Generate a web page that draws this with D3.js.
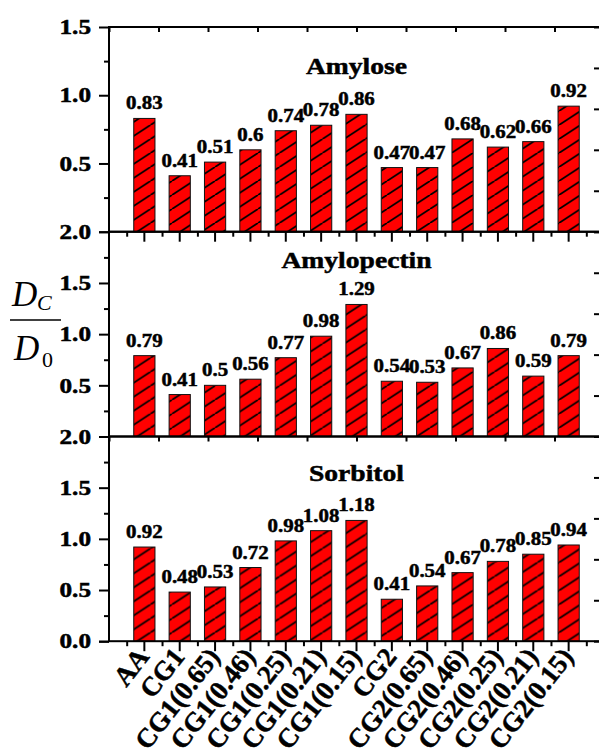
<!DOCTYPE html>
<html>
<head>
<meta charset="utf-8">
<script src="https://cdn.jsdelivr.net/npm/d3@7/dist/d3.min.js"></script>
<style>
  body { margin: 0; background: #fff; }
  svg { display: block; }
  .axis path, .axis line { stroke: #000; stroke-width: 2; }
</style>
</head>
<body>
<script>
// categories and the three series
var categories = ["AA", "CG1", "CG1(0.65)", "CG1(0.46)", "CG1(0.25)", "CG1(0.21)", "CG1(0.15)",
                  "CG2", "CG2(0.65)", "CG2(0.46)", "CG2(0.25)", "CG2(0.21)", "CG2(0.15)"];
var amylose     = [0.83, 0.41, 0.51, 0.6, 0.74, 0.78, 0.86, 0.47, 0.47, 0.68, 0.62, 0.66, 0.92];
var amylopectin = [0.79, 0.41, 0.5, 0.56, 0.77, 0.98, 1.29, 0.54, 0.53, 0.67, 0.86, 0.59, 0.79];
var sorbitol    = [0.92, 0.48, 0.53, 0.72, 0.98, 1.08, 1.18, 0.41, 0.54, 0.67, 0.78, 0.85, 0.94];
var panelTitles = ["Amylose", "Amylopectin", "Sorbitol"];
var yMax = [1.5, 2, 2];
var yTickLabels = [[0.5, 1, 1.5], [0.5, 1, 1.5, 2], [0, 0.5, 1, 1.5, 2]];

var series = [amylose, amylopectin, sorbitol];

var FONT = "'Liberation Serif', 'Times New Roman', 'DejaVu Serif', serif";

var width = 599, height = 754,
    left = 109, right = 604,
    panelTop = [27, 231.8, 436.5],
    panelH = 204.7,
    titleY = [47, 36, 44];

var step = (right - left) / 14;

var x = d3.scaleBand()
    .domain(categories)
    .range([left + step * 0.5, left + step * 13.5])
    .paddingInner(0.4)
    .paddingOuter(0.2);

var xLin = d3.scaleLinear().domain([0, 14]).range([left, right]);
var xTop = d3.scaleLinear().domain([0, 10]).range([left, right]);

var svg = d3.select("body").append("svg")
    .attr("width", width)
    .attr("height", height);

// red fill with black "/" hatching
var pw = 21.5, ph = 14;
var pat = svg.append("defs").append("pattern")
    .attr("id", "hatch")
    .attr("patternUnits", "userSpaceOnUse")
    .attr("width", pw)
    .attr("height", ph);
pat.append("rect").attr("width", pw).attr("height", ph).attr("fill", "#ff0000");
[-pw, 0, pw].forEach(function(o) {
    pat.append("line")
        .attr("x1", o).attr("y1", ph)
        .attr("x2", o + pw).attr("y2", 0)
        .attr("stroke", "#000")
        .attr("stroke-width", 1.8);
});

series.forEach(function(vals, p) {
    var g = svg.append("g")
        .attr("transform", "translate(0," + panelTop[p] + ")");

    var y = d3.scaleLinear()
        .domain([0, yMax[p]])
        .range([panelH, 0]);

    var yRight = d3.scaleLinear().domain([0, 5]).range([panelH, 0]);

    var data = categories.map(function(c, i) { return {cat: c, v: vals[i]}; });

    g.selectAll(".bar")
        .data(data)
        .enter().append("rect")
        .attr("class", "bar")
        .attr("x", function(d) { return x(d.cat); })
        .attr("y", function(d) { return y(d.v); })
        .attr("width", x.bandwidth())
        .attr("height", function(d) { return panelH - y(d.v); })
        .attr("fill", "url(#hatch)")
        .attr("stroke", "#111")
        .attr("stroke-width", 1);

    g.selectAll(".val")
        .data(data)
        .enter().append("text")
        .attr("class", "val bold")
        .attr("transform", function(d) {
            return "translate(" + (x(d.cat) + x.bandwidth() / 2) + "," + (y(d.v) - 9) + ") scale(1.1,1)";
        })
        .attr("text-anchor", "middle")
        .style("font-size", "19px")
        .text(function(d) { return d.v; });

    // title
    g.append("text")
        .attr("class", "bold")
        .attr("transform", "translate(" + ((left + right) / 2) + "," + titleY[p] + ") scale(1.15,1)")
        .attr("text-anchor", "middle")
        .style("font-size", "24px")
        .text(panelTitles[p]);

    // frame
    g.append("rect")
        .attr("x", left).attr("y", 0)
        .attr("width", right - left).attr("height", panelH)
        .attr("fill", "none")
        .attr("stroke", "#000")
        .attr("stroke-width", 2);

    // left axis
    var yAx = g.append("g")
        .attr("class", "axis")
        .attr("transform", "translate(" + left + ",0)")
        .call(d3.axisLeft(y).tickValues(yTickLabels[p]).tickSize(10).tickPadding(5)
            .tickFormat(d3.format(".1f")));
    yAx.select(".domain").remove();
    yAx.selectAll("text")
        .attr("class", "bold")
        .attr("transform", "scale(1.2,1)")
        .attr("fill", "#000")
        .style("font-size", "21px");

    g.append("g")
        .attr("class", "axis")
        .attr("transform", "translate(" + left + ",0)")
        .call(d3.axisLeft(y).tickValues([0]).tickSize(10).tickFormat(""))
        .select(".domain").remove();

    g.append("g")
        .attr("class", "axis")
        .attr("transform", "translate(" + left + ",0)")
        .call(d3.axisLeft(y).tickValues(d3.range(0.25, yMax[p], 0.5)).tickSize(5).tickFormat(""))
        .select(".domain").remove();

    // right axis, ticks pointing in
    g.append("g")
        .attr("class", "axis")
        .attr("transform", "translate(" + right + ",0)")
        .call(d3.axisLeft(yRight).ticks(5).tickSize(10).tickFormat(""))
        .select(".domain").remove();
    g.append("g")
        .attr("class", "axis")
        .attr("transform", "translate(" + right + ",0)")
        .call(d3.axisLeft(yRight).tickValues(d3.range(0.5, 5, 1)).tickSize(5).tickFormat(""))
        .select(".domain").remove();

    // top ticks pointing in
    if (p != 1) {
        g.append("g")
            .attr("class", "axis")
            .call(d3.axisBottom(xTop).ticks(10).tickSize(5).tickFormat(""))
            .select(".domain").remove();
    }

    // bottom category ticks
    if (p != 1) {
        var xAx = g.append("g")
            .attr("class", "axis")
            .attr("transform", "translate(0," + panelH + ")")
            .call(d3.axisBottom(x).tickSize(10).tickSizeOuter(0));
        xAx.select(".domain").remove();
        if (p == 2) {
            xAx.selectAll("text")
                .attr("class", "bold")
                .attr("x", 0).attr("y", 0).attr("dy", 0)
                .attr("transform", "translate(6,16) rotate(-52)")
                .attr("text-anchor", "end")
                .attr("fill", "#000")
                .style("font-size", "27px");
        } else {
            xAx.selectAll("text").remove();
        }
        g.append("g")
            .attr("class", "axis")
            .attr("transform", "translate(0," + panelH + ")")
            .call(d3.axisBottom(xLin).tickValues(d3.range(0.5, 14, 1)).tickSize(5).tickFormat(""))
            .select(".domain").remove();
    }
});

// y label: Dc / D0
var lab = svg.append("g").style("fill", "#000");
lab.append("text").attr("x", 12).attr("y", 306)
    .style("font-style", "italic").style("font-size", "35px").text("D");
lab.append("text").attr("x", 37).attr("y", 310)
    .style("font-style", "italic").style("font-size", "22px").text("C");
lab.append("line")
    .attr("x1", 10).attr("x2", 61).attr("y1", 320).attr("y2", 320)
    .attr("stroke", "#000").attr("stroke-width", 1.5);
lab.append("text").attr("x", 14).attr("y", 360)
    .style("font-style", "italic").style("font-size", "35px").text("D");
lab.append("text").attr("x", 42).attr("y", 367)
    .style("font-size", "22px").text("0");

// serif everywhere, overriding the axis default; bold texts a touch heavier
svg.selectAll("text").style("font-family", FONT);
svg.selectAll("text.bold")
    .style("font-weight", "bold")
    .style("stroke", "#000")
    .style("stroke-width", 0.5);
</script>
</body>
</html>
